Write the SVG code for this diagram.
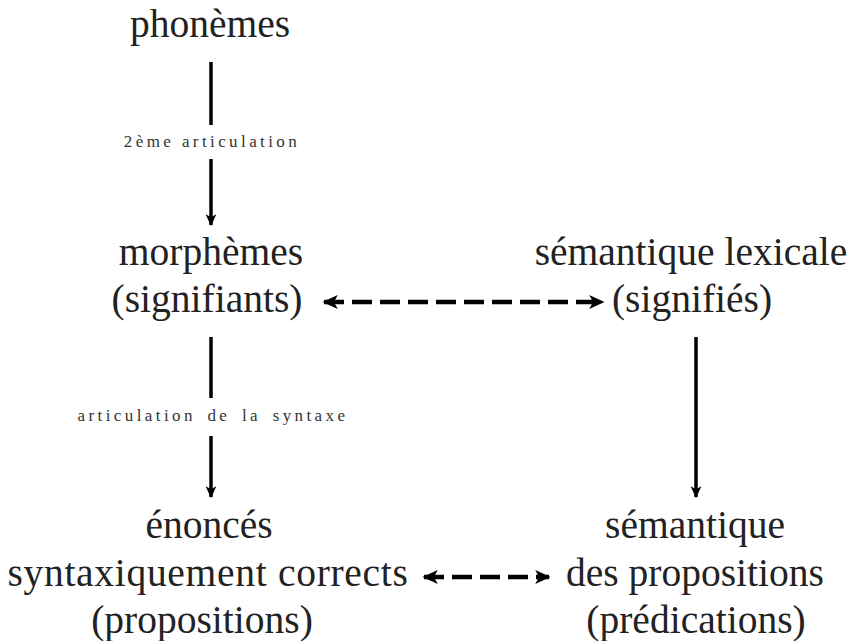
<svg xmlns="http://www.w3.org/2000/svg" width="856" height="641" viewBox="0 0 856 641">
  <style>
    .big { font-size: 39.5px; fill: #222; text-anchor: middle; }
    .small { font-size: 17px; fill: #333; text-anchor: middle; letter-spacing: 3.4px; }
    .edge { stroke: #000; stroke-width: 3.5; fill: none; }
    .dash { stroke: #000; stroke-width: 4.5; fill: none; stroke-dasharray: 20 8; }
  </style>
  <defs>
    <marker id="head" viewBox="0 0 10 10" refX="9" refY="5" markerWidth="3.4" markerHeight="3.4" orient="auto-start-reverse" markerUnits="strokeWidth">
      <path d="M0,0.5 L10,5 L0,9.5 L2.5,5 Z" fill="#000"/>
    </marker>
  </defs>

  <rect width="856" height="641" fill="#fff"/>

  <g id="connectors">
    <!-- phonèmes -> morphèmes -->
    <line class="edge" x1="211" y1="62" x2="211" y2="125"/>
    <line class="edge" x1="211" y1="159" x2="211" y2="225" marker-end="url(#head)"/>
    <!-- morphèmes -> énoncés -->
    <line class="edge" x1="211" y1="337" x2="211" y2="398"/>
    <line class="edge" x1="211" y1="436" x2="211" y2="497" marker-end="url(#head)"/>
    <!-- sémantique lexicale -> sémantique des propositions -->
    <line class="edge" x1="696" y1="337" x2="696" y2="497" marker-end="url(#head)"/>
    <!-- dashed two-way links -->
    <line class="dash" x1="324" y1="302" x2="603" y2="302" marker-start="url(#head)" marker-end="url(#head)"/>
    <line class="dash" x1="424" y1="577" x2="549" y2="577" marker-start="url(#head)" marker-end="url(#head)"/>
  </g>

  <g font-family="Liberation Serif, DejaVu Serif, serif">
    <g id="label-2eme">
      <text class="small" x="212" y="147">2ème articulation</text>
    </g>
    <g id="label-syntaxe">
      <text class="small" x="213" y="421" word-spacing="4">articulation de la syntaxe</text>
    </g>

    <g id="phonemes">
      <text class="big" x="210" y="37">phonèmes</text>
    </g>
    <g id="morphemes">
      <text class="big" x="211" y="265">morphèmes</text>
      <text class="big" x="207" y="312">(signifiants)</text>
    </g>
    <g id="semantique-lexicale">
      <text class="big" x="691" y="265">sémantique lexicale</text>
      <text class="big" x="692" y="312">(signifiés)</text>
    </g>
    <g id="enonces">
      <text class="big" x="209" y="538">énoncés</text>
      <text class="big" x="208" y="586" letter-spacing="0.7">syntaxiquement corrects</text>
      <text class="big" x="202" y="633">(propositions)</text>
    </g>
    <g id="semantique-propositions">
      <text class="big" x="695" y="538">sémantique</text>
      <text class="big" x="695" y="586">des propositions</text>
      <text class="big" x="696" y="633">(prédications)</text>
    </g>
  </g>
</svg>
